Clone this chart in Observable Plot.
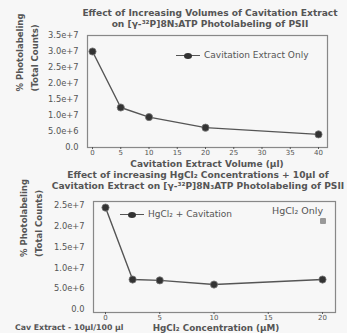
<!DOCTYPE html>
<html><head><meta charset="utf-8">
<script src="https://cdn.jsdelivr.net/npm/d3@7"></script>
<script src="https://cdn.jsdelivr.net/npm/@observablehq/plot@0.6"></script>
<style>
html,body{margin:0;padding:0;background:#f7f7f7;overflow:hidden;}
#wrap{position:relative;width:347px;height:333px;font-family:"DejaVu Sans",sans-serif;color:#555;}
.t{position:absolute;white-space:nowrap;font-weight:bold;font-size:9.1px;transform:translateX(-50%);line-height:10.5px;text-align:center;}
.abs{position:absolute;white-space:nowrap;font-size:9px;line-height:10px;}
.sym{display:inline-block;position:relative;width:24px;height:8px;vertical-align:middle;margin-right:4px;}
.sym:before{content:"";position:absolute;left:0;right:0;top:3.5px;height:1.3px;background:#555;}
.sym:after{content:"";position:absolute;left:8px;top:1px;width:8px;height:6px;border-radius:50%;background:#333;}
svg{position:absolute;left:0;overflow:visible;}
</style></head>
<body><div id="wrap">
<div class="t" style="left:210px;top:8px;">Effect of Increasing Volumes of Cavitation Extract<br>on [γ-³²P]8N₃ATP Photolabeling of PSII</div>
<div class="abs" style="left:176px;top:50px;"><span class="sym"></span>Cavitation Extract Only</div>
<div class="abs" style="left:207px;top:159px;font-size:9px;font-weight:bold;transform:translateX(-50%);">Cavitation Extract Volume (µl)</div>
<div class="t" style="left:198px;top:170px;">Effect of increasing HgCl₂ Concentrations + 10µl of<br>Cavitation Extract on [γ-³²P]8N₃ATP Photolabeling of PSII</div>
<div class="abs" style="left:120px;top:209px;"><span class="sym"></span>HgCl₂ + Cavitation</div>
<div class="abs" style="left:272px;top:206px;font-size:9.5px;">HgCl₂ Only</div>
<div class="abs" style="left:320px;top:218px;width:6px;height:6px;background:#999;border-radius:1px;"></div>
<div class="abs" style="left:15px;top:323px;font-size:7.8px;font-weight:bold;">Cav Extract - 10µl/100 µl</div>
<div class="abs" style="left:216px;top:323px;font-size:8.8px;font-weight:bold;transform:translateX(-50%);">HgCl₂ Concentration (µM)</div>
</div>
<script>
const volumes = [0, 5, 10, 20, 40];
const cavSignal = [3.0e7, 1.25e7, 0.95e7, 0.62e7, 0.41e7];
const volTicks = [0, 5, 10, 15, 20, 25, 30, 35, 40];
const cavYTicks = [0, 5e6, 1e7, 1.5e7, 2e7, 2.5e7, 3e7, 3.5e7];

const hgConc = [0, 2.5, 5, 10, 20];
const hgSignal = [2.45e7, 0.72e7, 0.70e7, 0.60e7, 0.72e7];
const hgTicks = [0, 5, 10, 15, 20];
const hgYTicks = [0, 5e6, 1e7, 1.5e7, 2e7, 2.5e7];

const yAxisLabel = "% Photolabeling\n(Total Counts)";
const fmt = d => d === 0 ? "0.0" : d.toExponential(1);

const topData = volumes.map((v, i) => ({x: v, y: cavSignal[i]}));
const botData = hgConc.map((v, i) => ({x: v, y: hgSignal[i]}));

const common = {
  style: {fontFamily: "DejaVu Sans, sans-serif", fontSize: "8.3px", color: "#555", background: "transparent", overflow: "visible"}
};

const p1 = Plot.plot({
  ...common,
  width: 347, height: 147,
  marginLeft: 87, marginRight: 20, marginTop: 10, marginBottom: 25,
  insetLeft: 5, insetRight: 9,
  x: {domain: [0, 40], ticks: volTicks, label: null},
  y: {domain: [0, 3.5e7], ticks: cavYTicks, tickFormat: fmt, label: null},
  marks: [
    Plot.frame({stroke: "#888", strokeWidth: 1.2}),
    Plot.axisX({ticks: volTicks, tickSize: 2, tickPadding: 1, fontSize: 7, label: null}),
    Plot.axisY({ticks: cavYTicks, tickFormat: fmt, tickSize: 0, tickPadding: 9, label: null}),
    Plot.line(topData, {x: "x", y: "y", stroke: "#555", strokeWidth: 1.4}),
    Plot.dot(topData, {x: "x", y: "y", r: 3.6, fill: "#333", stroke: "#777", strokeWidth: 0.8}),
    Plot.text([yAxisLabel], {frameAnchor: "left", dx: -62, rotate: -90, fontSize: 8.5, fontWeight: "bold", lineHeight: 1.8, fill: "#555"})
  ]
});
p1.style.top = "25px";

const p2 = Plot.plot({
  ...common,
  width: 347, height: 141,
  marginLeft: 93, marginRight: 12, marginTop: 9, marginBottom: 21,
  insetLeft: 12, insetRight: 13, insetTop: 4, insetBottom: 3,
  x: {domain: [0, 20], ticks: hgTicks, label: null},
  y: {domain: [0, 2.5e7], ticks: hgYTicks, tickFormat: fmt, label: null},
  marks: [
    Plot.frame({stroke: "#888", strokeWidth: 1.2}),
    Plot.axisX({ticks: hgTicks, tickSize: 2, tickPadding: 1, fontSize: 7, label: null}),
    Plot.axisY({ticks: hgYTicks, tickFormat: fmt, tickSize: 0, tickPadding: 9, label: null}),
    Plot.line(botData, {x: "x", y: "y", stroke: "#555", strokeWidth: 1.4}),
    Plot.dot(botData, {x: "x", y: "y", r: 3.6, fill: "#333", stroke: "#777", strokeWidth: 0.8}),
    Plot.text([yAxisLabel], {frameAnchor: "left", dx: -64, rotate: -90, fontSize: 8.5, fontWeight: "bold", lineHeight: 1.8, fill: "#555"})
  ]
});
p2.style.top = "192px";

const wrap = document.getElementById("wrap");
wrap.appendChild(p1);
wrap.appendChild(p2);
</script>
</body></html>
